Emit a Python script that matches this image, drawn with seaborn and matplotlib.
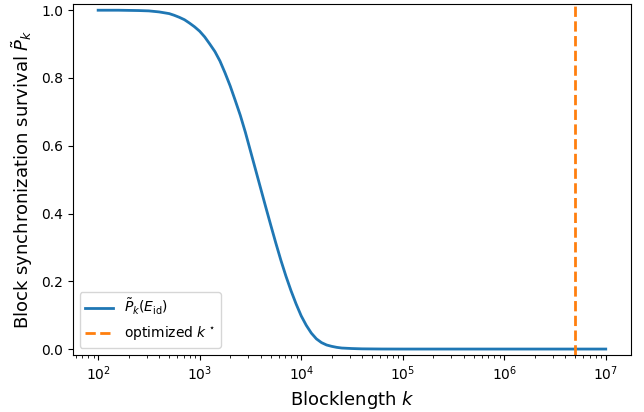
import numpy as np
import pandas as pd
import matplotlib
matplotlib.use("Agg")
import matplotlib.pyplot as plt
import seaborn as sns

# values
blocklength = [100, 158, 251, 316, 398, 501, 562, 631, 708, 794, 891, 1000,
               1122, 1259, 1413, 1585, 1778, 1995, 2239, 2512, 2818, 3162,
               3548, 3981, 4467, 5012, 5623, 6310, 7079, 7943, 8913, 10000,
               11220, 12589, 14125, 15849, 17783, 19953, 22387, 25119, 31623,
               39811, 63096, 100000, 1000000, 10000000]
survival = [1.000, 1.000, 0.999, 0.998, 0.995, 0.990, 0.985, 0.979, 0.972,
            0.962, 0.951, 0.938, 0.921, 0.900, 0.878, 0.850, 0.815, 0.777,
            0.734, 0.690, 0.640, 0.585, 0.530, 0.475, 0.420, 0.366, 0.313,
            0.262, 0.215, 0.172, 0.133, 0.098, 0.070, 0.047, 0.030, 0.019,
            0.012, 0.008, 0.005, 0.003, 0.0015, 0.0006, 0.0001, 0.0, 0.0, 0.0]
k_opt = 5.0e6

df = pd.DataFrame({"k": blocklength, "P": survival})

fig, ax = plt.subplots(figsize=(6.44, 4.12), dpi=100)
fig.subplots_adjust(left=0.113, right=0.98, top=0.99, bottom=0.138)

sns.lineplot(data=df, x="k", y="P", ax=ax, color="#1f77b4", linewidth=2,
             label=r"$\tilde{P}_k(E_{\rm id})$")
ax.axvline(k_opt, color="#ff7f0e", linestyle="--", linewidth=2,
           label=r"optimized $k^\star$")

ax.set_xscale("log")
ax.set_ylim(-0.018, 1.018)
ax.set_xlabel(r"Blocklength $k$", fontsize=13)
ax.set_ylabel(r"Block synchronization survival $\tilde{P}_k$", fontsize=13)
ax.tick_params(labelsize=10)
ax.legend(loc="lower left", fontsize=10)

fig.savefig("out.png", dpi=100)
